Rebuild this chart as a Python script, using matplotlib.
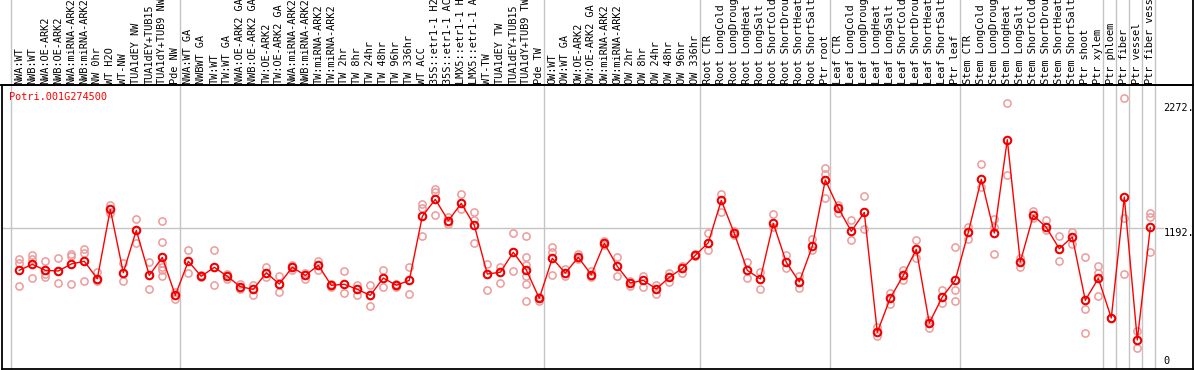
import matplotlib
matplotlib.use("Agg")
import matplotlib.pyplot as plt
from matplotlib.transforms import blended_transform_factory

gene_id = "Potri.001G274500"

labels = [
    "NWA:WT", "NWB:WT", "NWA:OE-ARK2", "NWB:OE-ARK2", "NWA:miRNA-ARK2", "NWB:miRNA-ARK2",
    "NW 0hr", "WT H2O", "WT-NW", "TUA1dEY NW", "TUA1dEY+TUB15", "TUA1dY+TUB9 NW", "Pde NW",
    "NWA:WT GA", "NWBWT GA", "TW:WT", "TW:WT GA", "NWA:OE-ARK2 GA", "NWB:OE-ARK2 GA",
    "TW:OE-ARK2", "TW:OE-ARK2 GA", "NWA:miRNA-ARK2", "NWB:miRNA-ARK2", "TW:miRNA-ARK2",
    "TW:miRNA-ARK2", "TW 2hr", "TW 8hr", "TW 24hr", "TW 48hr", "TW 96hr", "TW 336hr",
    "WT ACC", "35S::etr1-1 H2", "35S::etr1-1 AC", "LMX5::etr1-1 H", "LMX5::etr1-1 A",
    "WT-TW", "TUA1dEY TW", "TUA1dEY+TUB15", "TUA1dY+TUB9 TW", "Pde TW",
    "OW:WT", "OW:WT GA", "OW:OE-ARK2", "OW:OE-ARK2 GA", "OW:miRNA-ARK2", "OW:miRNA-ARK2",
    "OW 2hr", "OW 8hr", "OW 24hr", "OW 48hr", "OW 96hr", "OW 336hr",
    "Root CTR", "Root LongCold", "Root LongDroug", "Root LongHeat", "Root LongSalt",
    "Root ShortCold", "Root ShortDrou", "Root ShortHeat", "Root ShortSalt", "Ptr root",
    "Leaf CTR", "Leaf LongCold", "Leaf LongDroug", "Leaf LongHeat", "Leaf LongSalt",
    "Leaf ShortCold", "Leaf ShortDrou", "Leaf ShortHeat", "Leaf ShortSalt", "Ptr leaf",
    "Stem CTR", "Stem LongCold", "Stem LongDroug", "Stem LongHeat", "Stem LongSalt",
    "Stem ShortCold", "Stem ShortDrou", "Stem ShortHeat", "Stem ShortSalt", "Ptr shoot",
    "Ptr xylem", "Ptr phloem", "Ptr fiber", "Ptr vessel", "Ptr fiber vess",
]

means = [
    825, 877, 825, 819, 880, 903, 752, 1353, 804, 1171, 781, 937, 608,
    903, 773, 851, 773, 683, 660, 804, 706, 851, 781, 868, 695, 704, 660, 608,
    758, 695, 738, 1293, 1440, 1255, 1405, 1215, 793, 808, 981, 828, 582,
    929, 802, 937, 787, 1059, 859, 715, 738, 663, 764, 842, 955,
    1064, 1431, 1145, 825, 750, 1232, 894, 724, 1033, 1608,
    1365, 1163, 1327, 288, 585, 781, 1007, 368, 594, 740,
    1154, 1614, 1148, 1957, 897, 1301, 1197, 1012, 1114, 565, 755,
    412, 1460, 221, 1197,
]

replicates = [
    [923, 885, 686], [960, 923, 755], [903, 770, 793], [929, 712, 819], [966, 952, 706],
    [1007, 978, 729], [810, 729], [1388, 1319], [885, 729], [1267, 1064], [894, 660],
    [1249, 1067, 891, 856, 825, 773], [637, 579],
    [998, 799], [785, 765], [998, 695], [793, 747], [706, 660], [695, 614], [856, 770],
    [776, 637], [868, 825], [804, 747], [903, 825], [706, 683], [816, 625], [700, 614],
    [700, 513], [825, 680], [706, 677], [854, 617], [1400, 1365, 1122], [1527, 1504, 1301],
    [1290, 1226], [1483, 1353], [1327, 1261, 1062], [877, 654], [856, 715], [1145, 816],
    [1122, 937, 871, 778, 706, 556], [596, 562],
    [1024, 987, 781], [839, 773], [966, 920], [816, 764], [1079, 1044], [943, 773],
    [735, 689], [776, 677], [700, 620], [799, 726], [862, 804], [966, 949],
    [1145, 1004], [1483, 1327], [1168, 1131], [900, 755], [810, 660], [1310, 1203],
    [958, 848], [776, 672], [1099, 1001], [1709, 1657, 1449],
    [1391, 1319], [1258, 1085], [1466, 1183], [331, 258], [631, 533], [828, 738],
    [1085, 932], [394, 322], [654, 539], [1027, 654, 562],
    [1203, 1094], [1743, 1550], [1267, 1203, 963], [2272, 1648], [929, 851], [1339, 1278],
    [1261, 1174], [1119, 908], [1157, 1053], [937, 487, 279], [862, 804, 602],
    [412], [2318, 1278, 790], [299, 152], [1324, 1290, 987],
]

group_ends = [0, 13, 41, 53, 63, 73, 84, 85, 86, 87, 88]
tick_values = [2272, 1192, 0]
tick_texts = ["2272.", "1192.", "0"]

W, H = 1194, 370
fig = plt.figure(figsize=(W / 100, H / 100), dpi=100)
ax = fig.add_axes([1.7 / W, (H - 369.3) / H, (1193 - 1.7) / W, (369.3 - 85) / H])
ax.set_xlim((1.7 - 6.3) / 13, (1193 - 6.3) / 13)
ax.set_ylim(-33, 2431)
ax.set_xticks([])
ax.set_yticks([])
for s in ax.spines.values():
    s.set_color("black")
    s.set_linewidth(1.3)
ax.spines["right"].set_visible(False)

mono = "DejaVu Sans Mono"
trans = blended_transform_factory(ax.transData, fig.transFigure)
xs = list(range(1, len(means) + 1))

# separators (full height)
for k in group_ends:
    ax.plot([k + 0.37, k + 0.37], [0, 1], color="#c4c4c4", lw=1.0,
            transform=trans, clip_on=False, zorder=0.5)
# right border full height
fig.add_artist(plt.Line2D([1192.5 / W, 1192.5 / W], [0, 1], color="black", lw=1.3,
                          transform=fig.transFigure))
# header bottom line across full width
fig.add_artist(plt.Line2D([0, 1], [(H - 85) / H, (H - 85) / H], color="black", lw=1.3,
                          transform=fig.transFigure))

# grid line at 1192
ax.plot([(1.7 - 6.3) / 13, (1163 - 6.3) / 13], [1192, 1192], color="#c4c4c4", lw=1.0,
        zorder=0.6, clip_on=False)

# replicates
for x, reps in zip(xs, replicates):
    ax.plot([x] * len(reps), reps, linestyle="none", marker="o", markersize=5.2,
            markerfacecolor="none", markeredgecolor="#ee9a9a", markeredgewidth=1.1, zorder=2)

ax.plot(xs, means, color="#ff0000", lw=1.0, zorder=3)
ax.plot(xs, means, linestyle="none", marker="o", markersize=5.4, markerfacecolor="none",
        markeredgecolor="#ee0000", markeredgewidth=1.5, zorder=4)

# header labels
for x, lab in zip(xs, labels):
    ax.text(x, (H - 83.5) / H, lab, rotation=90, ha="center", va="bottom",
            fontsize=7.4, family=mono, color="black", transform=trans, clip_on=False)

ax.text((9.3 - 6.3) / 13, (H - 97) / H, gene_id, color="#ff0000", fontsize=7.4,
        family=mono, ha="left", va="center", transform=trans)

xt = (1163.5 - 6.3) / 13
for v, t in zip(tick_values, tick_texts):
    if v == 0:
        ax.text(xt, -8, t, ha="left", va="bottom", fontsize=7.4, family=mono, clip_on=False)
    else:
        ax.text(xt, v, t, ha="left", va="top", fontsize=7.4, family=mono, clip_on=False)

fig.savefig("out.png", dpi=100)
